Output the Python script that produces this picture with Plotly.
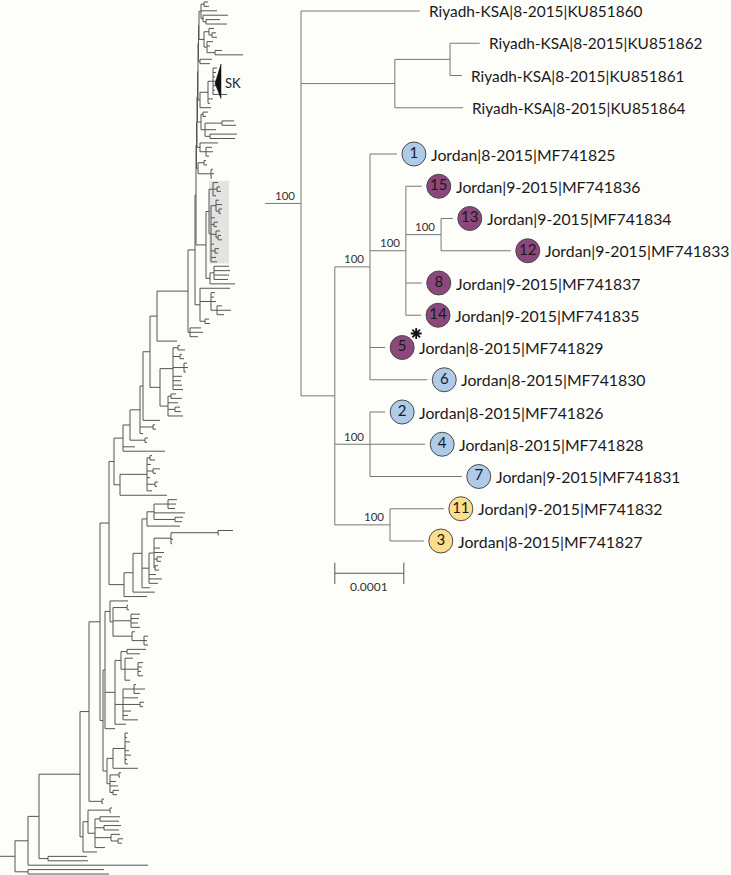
import plotly.graph_objects as go

# ---------------------------------------------------------------- data
# Left panel: overview tree, written as Newick pieces (branch lengths in tree units)
A = "((:4,:5):3,:16,(:25,(:14,:21):3):2):2"
B = "((:5,(:4,:5):3):5,(:6,:3,(:7,:28):8):3):5"
P1 = "(:12,:10):1.5"
SK = "(((:4,:3,:2,:4,:3,:2,:14)SK:5,:5,:2):8,:11):2"
C = "((:5,:3):2,((:12,:14):17,:11,(:27,:25):5):4):3.5"
D = "(:18,(:6,:7,:3):6):3"
E = "((:2,:3):6,(:2,:3,:1):13):1.5"
S = "((:5,(:3,:4):4,:3):4,((:3,:6,(:3,:2):3):5,:4,(:4,:3):3,(:4,(:3,:4):2):5,:3,(:4,:3):4,:5,:6):2)HL:3"
F = "((:15,:16,:15,:14):4,:25):4"
H = "(:30,(:4,:3,:5,(:5,:14,:7):6):11,(:4,:5):5):5"
Q = "(:11,:13,:8):2"
K1 = "((:2,:7):5,(:2,:4):7,(:3,:4,:2):11,:9,:8,:9,:10):13"
K2 = "((:5,:11):3,:10,(:5,:6):7,:15):8"
M1 = "((:2,:5):3,:4,(:7,:3):6,:3,(:3,:2):8,:5):27"
R3 = "(((:9,:8,:7):14,:31,(:8,:7):21):7,:33):5"
R4 = "((((:15,:1):47,:2,:1):17,:6,:10,(:5,:4):3,(:3,:4):1):5,:7,:13,:9):7"
N110 = "(:18,((:1,:2):14,(:9,:8,:7,:9):18,(:3,(:4,:3,:4):12):19):3):5"
NMID = "(((:19,:13):6,(:8,(:5,:4,:3,:5):13,:5):4):6,((:2,:11,:6):11,:15,(:4,:3):17,:8,:5,:15):8,:11):10"
N107 = "(((:3,:2,:5,:1,:4,:6,:2,:3):12,:25):6,((:2,:1):9,:6,:8,(:6,:4):3):3):4"
C83 = "(((:2,:1):22,((:20,:19):5,(:17,:15):9,(:9,(:5,:4):7):16,:10):7):5,:14):3"
OUT = "(:76,:81):13"
G = f"({S},{F}):10"
NK = f"({K1},{K2}):10"
M = f"({M1},:47):6"
R = f"((({R3},{R4},:8):9,:22):9,:23):15"
N103 = f"(({N110},{NMID},:10):2,{N107}):3"
LEFT_CROWN = f"({A},{B})"
# backbone, from the crown outwards: (branch length of inner part, sister clade(s))
LEFT_BACKBONE = [
    (0.5, P1), (0.5, SK), (0.5, C), (0.5, D), (0.5, E), (0.5, G), (1, H), (7, Q),
    (31, ":20"), (7, NK), (7, ":17"), (3, "(:2,:3):13,:3"), (10, "(:3,:2):15"),
    (7, ":12,:42"), (9, M), (5, R), (9, N103), (11, "(:2,:1):13"), (9, C83),
    (41, "(:39,:40):9"), (11, ":120"), (13, OUT),
]
LEFT_ROOT_STEM = 15

# Right panel: detail subtree (branch lengths in 1e-5 substitutions/site), bootstrap labels
RIGHT_NEWICK = ("(KU851860:17.2,((KU851862:4.3,KU851861:1.7):8.0,KU851864:9.9):13.6,"
                "((MF741825:3.9,(MF741836:2.3,(MF741834:1.7,MF741833:10.1)100:5.1,"
                "MF741837:2.3,MF741835:2.2)100:5.2,MF741829:2.2,MF741830:8.3)100:5.1,"
                "(MF741826:2.2,MF741828:8.0,MF741831:13.3)100:5.1,"
                "(MF741832:7.8,MF741827:4.9)100:8.0):4.9)100:5.2;")
ACCESSIONS = ["KU851860", "KU851862", "KU851861", "KU851864", "MF741825", "MF741836",
              "MF741834", "MF741833", "MF741837", "MF741835", "MF741829", "MF741830",
              "MF741826", "MF741828", "MF741831", "MF741832", "MF741827"]
PLACES = ["Riyadh-KSA"] * 4 + ["Jordan"] * 13
DATES = ["8-2015"] * 4 + ["8-2015", "9-2015", "9-2015", "9-2015", "9-2015", "9-2015",
                          "8-2015", "8-2015", "8-2015", "8-2015", "9-2015", "9-2015", "8-2015"]
CASE_NUMBERS = [None] * 4 + [1, 15, 13, 12, 8, 14, 5, 6, 2, 4, 7, 11, 3]
CASE_GROUPS = [None] * 4 + ["blue", "purple", "purple", "purple", "purple", "purple",
                            "purple", "blue", "blue", "blue", "blue", "yellow", "yellow"]
GROUP_COLORS = {"blue": "#aecbe8", "purple": "#8c487c", "yellow": "#fcde8c"}
STARRED = ["MF741829"]
SCALE_BAR_LEN = 10  # 0.0001
SCALE_BAR_LABEL = "0.0001"

# ---------------------------------------------------------------- helpers
def parse_newick(s):
    s = s.strip().rstrip(";")
    pos = 0

    def node():
        nonlocal pos
        n = {"children": [], "name": "", "length": 0.0}
        if s[pos] == "(":
            pos += 1
            while True:
                n["children"].append(node())
                if s[pos] == ",":
                    pos += 1
                    continue
                pos += 1
                break
        st = pos
        while pos < len(s) and s[pos] not in ":,()":
            pos += 1
        n["name"] = s[st:pos]
        if pos < len(s) and s[pos] == ":":
            pos += 1
            st = pos
            while pos < len(s) and s[pos] not in ",()":
                pos += 1
            n["length"] = float(s[st:pos])
        return n

    return node()


def layout(root, origin, tip_y):
    tips, nodes = [], []
    counter = [0]

    def walk(n, px):
        n["x"] = px + n["length"]
        nodes.append(n)
        if n["children"]:
            for ch in n["children"]:
                ch["parent_x"] = n["x"]
                walk(ch, n["x"])
            n["y"] = (n["children"][0]["y"] + n["children"][-1]["y"]) / 2
            n["tips"] = [t for ch in n["children"] for t in ch["tips"]]
        else:
            n["y"] = tip_y(counter[0], n)
            counter[0] += 1
            n["tips"] = [n]
            tips.append(n)

    root["parent_x"] = origin
    walk(root, origin)
    return tips, nodes


def segments(nodes):
    xs, ys = [], []
    for n in nodes:
        xs += [n["parent_x"], n["x"], None]
        ys += [n["y"], n["y"], None]
        if n["children"]:
            xs += [n["x"], n["x"], None]
            ys += [n["children"][0]["y"], n["children"][-1]["y"], None]
    return xs, ys


# ---------------------------------------------------------------- build trees
left_str = LEFT_CROWN
for bl, sister in LEFT_BACKBONE:
    left_str = f"({left_str}:{bl},{sister})"
left_str += f":{LEFT_ROOT_STEM};"
left_root = parse_newick(left_str)
left_tips, left_nodes = layout(left_root, 0.0, lambda i, n: float(i))
n_left = len(left_tips)

right_root = parse_newick(RIGHT_NEWICK)
place_of = dict(zip(ACCESSIONS, PLACES))
GROUP_GAP = 0.434
right_tips, right_nodes = layout(
    right_root, -right_root["length"],
    lambda i, n: i + (GROUP_GAP if place_of[n["name"]] == "Jordan" else 0.0))

# ---------------------------------------------------------------- pixel geometry
W, Hh = 731, 875
L_TOP, L_BOT = 2.0, 874.0   # pixel rows of first / last left tip
l_ppr = (L_BOT - L_TOP) / (n_left - 1)
R_PX_PER_UNIT, R_ROOT_PX, R_TOP, R_ROW = 6.9, 301.0, 11.0, 32.25

BG = "#fdfdfa"
TXT = "#1a1a1a"
FONT = "Lato"
LABEL_SIZE = {"Riyadh-KSA": 15.4, "Jordan": 15.8}

fig = go.Figure()

# highlighted clade (shaded box)
hl = next(n for n in left_nodes if n["name"] == "HL")
hl_ranks = [t["y"] for t in hl["tips"]]
hl_maxx = max(t["x"] for t in hl["tips"])
fig.add_shape(type="rect", xref="x", yref="y", x0=hl["x"], x1=hl_maxx + 7,
              y0=min(hl_ranks) - 0.4, y1=max(hl_ranks) + 0.4,
              fillcolor="#e3e3e1", line_width=0, layer="below")

lx, ly = segments(left_nodes)
fig.add_trace(go.Scatter(x=lx, y=ly, mode="lines", line=dict(color="#555555", width=1),
                         hoverinfo="skip", xaxis="x", yaxis="y", cliponaxis=False))

# SK arrow head
sk = next(n for n in left_nodes if n["name"] == "SK")
sk_r = [t["y"] for t in sk["tips"]]
tipx = sk["x"] + 2
basex = sk["x"] + 8
fig.add_trace(go.Scatter(x=[tipx, basex, basex, tipx],
                         y=[sk["y"] + 0.5, min(sk_r) - 0.9, max(sk_r) + 0.9, sk["y"] + 0.5],
                         fill="toself", fillcolor="#111111", mode="lines",
                         line=dict(color="#111111", width=0.5), hoverinfo="skip",
                         xaxis="x", yaxis="y"))
fig.add_annotation(x=basex, y=sk["y"] + 0.5, xref="x", yref="y", text="SK",
                   showarrow=False, xanchor="left", xshift=2,
                   font=dict(family=FONT, size=13, color="#222222"))

# right tree lines
rx, ry = segments(right_nodes)
fig.add_trace(go.Scatter(x=rx, y=ry, mode="lines", line=dict(color="#777777", width=1),
                         hoverinfo="skip", xaxis="x2", yaxis="y2"))

# bootstrap labels
for n in right_nodes:
    if n["children"] and n["name"]:
        fig.add_annotation(x=n["x"], y=n["y"], xref="x2", yref="y2", text=n["name"],
                           showarrow=False, xanchor="right", yanchor="middle",
                           xshift=-4, yshift=8,
                           font=dict(family=FONT, size=11.5, color="#333333"))

# tip labels and case circles
info = {a: (p, d, c, g) for a, p, d, c, g in zip(ACCESSIONS, PLACES, DATES, CASE_NUMBERS, CASE_GROUPS)}
cx, cy, ccol, ctxt = [], [], [], []
sx, sy = [], []
circle_off = 17 / R_PX_PER_UNIT
for t in right_tips:
    p, d, c, g = info[t["name"]]
    has_c = c is not None
    fig.add_annotation(x=t["x"], y=t["y"], xref="x2", yref="y2",
                       text=f"{p}|{d}|{t['name']}", showarrow=False,
                       xanchor="left", yanchor="middle", xshift=32 if has_c else 7,
                       font=dict(family=FONT, size=LABEL_SIZE[p], color=TXT))
    if has_c:
        cx.append(t["x"] + circle_off)
        cy.append(t["y"])
        ccol.append(GROUP_COLORS[g])
        ctxt.append(str(c))
        if t["name"] in STARRED:
            sx.append(t["x"] + circle_off + 14 / R_PX_PER_UNIT)
            sy.append(t["y"] - 14 / R_ROW)
fig.add_trace(go.Scatter(x=cx, y=cy, mode="markers+text", text=ctxt,
                         textposition="middle center",
                         textfont=dict(family=FONT, size=15, color=TXT),
                         marker=dict(size=24, color=ccol, line=dict(color="#4a4a4a", width=1)),
                         hoverinfo="skip", xaxis="x2", yaxis="y2"))
# asterisk mark next to the starred case
fig.add_trace(go.Scatter(x=sx, y=sy, mode="markers",
                         marker=dict(symbol="asterisk-open", size=9, color="#111111",
                                     line=dict(color="#111111", width=1.8)),
                         hoverinfo="skip", xaxis="x2", yaxis="y2"))

# scale bar
jordan_node = next(n for n in right_nodes if n["children"] and
                   place_of.get(n["tips"][0]["name"]) == "Jordan" and len(n["tips"]) == 13)
sb_x0 = jordan_node["x"]
sb_y = right_tips[-1]["y"] + 1.0
tick = 0.33
fig.add_trace(go.Scatter(
    x=[sb_x0, sb_x0 + SCALE_BAR_LEN, None, sb_x0, sb_x0, None,
       sb_x0 + SCALE_BAR_LEN, sb_x0 + SCALE_BAR_LEN],
    y=[sb_y, sb_y, None, sb_y - tick, sb_y + tick, None, sb_y - tick, sb_y + tick],
    mode="lines", line=dict(color="#555555", width=1), hoverinfo="skip",
    xaxis="x2", yaxis="y2"))
fig.add_annotation(x=sb_x0 + SCALE_BAR_LEN / 2, y=sb_y, xref="x2", yref="y2",
                   text=SCALE_BAR_LABEL, showarrow=False, yshift=-13,
                   font=dict(family=FONT, size=12, color="#333333"))

ax = dict(visible=False, showgrid=False, zeroline=False, fixedrange=True)
fig.update_layout(
    width=W, height=Hh, margin=dict(l=0, r=0, t=0, b=0),
    paper_bgcolor=BG, plot_bgcolor=BG, showlegend=False,
    xaxis=dict(ax, domain=[0, 1], range=[0, W]),
    yaxis=dict(ax, domain=[0, 1], range=[(Hh - L_TOP) / l_ppr, -L_TOP / l_ppr]),
    xaxis2=dict(ax, domain=[0, 1], anchor="y2", overlaying="x",
                range=[-R_ROOT_PX / R_PX_PER_UNIT, (W - R_ROOT_PX) / R_PX_PER_UNIT]),
    yaxis2=dict(ax, domain=[0, 1], anchor="x2", overlaying="y",
                range=[(Hh - R_TOP) / R_ROW, -R_TOP / R_ROW]),
)
fig.write_html("out.html", config={"displayModeBar": False},
               post_script="document.body.style.margin='0px';document.body.style.overflow='hidden';")
